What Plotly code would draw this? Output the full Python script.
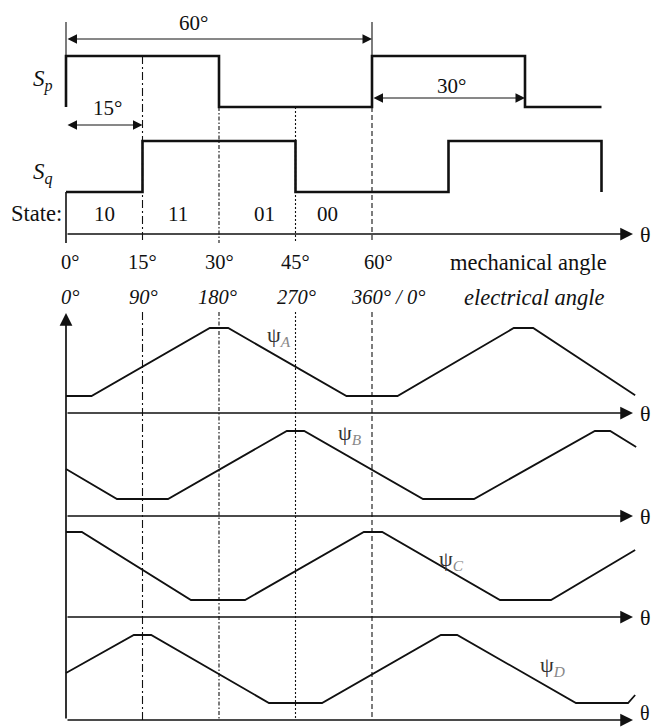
import plotly.graph_objects as go

# ---------------- data (mechanical angle in degrees) ----------------
sp_x = [0, 0, 30, 30, 60, 60, 90, 90, 105]
sp_y = [0, 1, 1, 0, 0, 1, 1, 0, 0]
sq_x = [0, 15, 15, 45, 45, 75, 75, 105, 105]
sq_y = [0, 0, 1, 1, 0, 0, 1, 1, 0]

# flux linkage waveforms: level 0 = axis, 1 = bottom flat, 5 = top flat
psiA_x = [0, 5, 28.2, 31.8, 55, 65, 87.8, 91.6, 111.6]
psiA_y = [1, 1, 5, 5, 1, 1, 5, 5, 1.05]
psiB_x = [0, 10, 20, 43.3, 46.7, 70, 80, 103.7, 106.7, 111.8]
psiB_y = [2.76, 1, 1, 5, 5, 1, 1, 5, 5, 4.06]
psiC_x = [0, 3.1, 24.5, 35.1, 58.4, 62, 85.1, 95.1, 111.6]
psiC_y = [5, 5, 1, 1, 5, 5, 1, 1, 3.94]
psiD_x = [0, 13.3, 16.7, 39.8, 50.2, 73.5, 76.7, 100, 110.2, 111.6]
psiD_y = [2.76, 5, 5, 1, 1, 5, 5, 1, 1, 1.47]

mech_ticks = [0, 15, 30, 45, 60]
mech_labels = ["0°", "15°", "30°", "45°", "60°"]
elec_labels = ["0°", "90°", "180°", "270°", "360° / 0°"]
states = ["10", "11", "01", "00"]

# ---------------- layout geometry ----------------
W, H = 652, 727
X0PX, PXDEG = 66.0, 5.1
xr = [-X0PX / PXDEG, (W - X0PX) / PXDEG]


def deg(px):
    return (px - X0PX) / PXDEG


def dom(zero_px, unit_px, lo, hi):
    b = 1 - (zero_px - unit_px * lo) / H
    t = 1 - (zero_px - unit_px * hi) / H
    return [max(0.0, b), min(1.0, t)]


FONT = "'Liberation Serif', 'Times New Roman', Times, serif"
BLK = "#111"

fig = go.Figure()

# switching signals
fig.add_trace(go.Scatter(x=sp_x, y=sp_y, mode="lines", yaxis="y2",
                         line=dict(color=BLK, width=2.6), hoverinfo="skip"))
fig.add_trace(go.Scatter(x=sq_x, y=sq_y, mode="lines", yaxis="y3",
                         line=dict(color=BLK, width=2.6), hoverinfo="skip"))

# flux linkages
for xs, ys, ax in [(psiA_x, psiA_y, "y4"), (psiB_x, psiB_y, "y5"),
                   (psiC_x, psiC_y, "y6"), (psiD_x, psiD_y, "y7")]:
    fig.add_trace(go.Scatter(x=xs, y=ys, mode="lines", yaxis=ax,
                             line=dict(color=BLK, width=1.8), hoverinfo="skip"))

hid = dict(visible=False, fixedrange=True)
psi_axes_px = [413, 516, 617, 720]

layout = dict(
    width=W, height=H, margin=dict(l=0, r=0, t=0, b=0),
    paper_bgcolor="white", plot_bgcolor="white", showlegend=False,
    font=dict(family=FONT),
    xaxis=dict(range=xr, domain=[0, 1], anchor="y", **hid),
    yaxis=dict(range=[H, 0], domain=[0, 1], anchor="x", **hid),
    yaxis2=dict(range=[-0.2, 1.2], domain=dom(107, 51, -0.2, 1.2), anchor="x", **hid),
    yaxis3=dict(range=[-0.2, 1.2], domain=dom(192, 51, -0.2, 1.2), anchor="x", **hid),
)
for i, a in enumerate(psi_axes_px):
    layout[f"yaxis{4 + i}"] = dict(range=[-0.4, 5.6], domain=dom(a, 17, -0.4, 5.6),
                                  anchor="x", **hid)
fig.update_layout(**layout)

shapes = []


def vline(xd, y0, y1, dash="solid", w=1.1):
    shapes.append(dict(type="line", xref="x", yref="y", x0=xd, x1=xd, y0=y0, y1=y1,
                       line=dict(color=BLK, width=w, dash=dash)))


# extension lines for 60° dimension
vline(0, 22, 56)
vline(60, 22, 56)
# left frame of state row
vline(0, 192, 243, w=1.6)
# reference lines
styles = {15: "8px,3px,2px,3px", 30: "4px,2px,1.5px,2px", 45: "2px,2px", 60: "5px,3px"}
starts = {15: 56, 30: 107, 45: 107, 60: 107}
for d in [15, 30, 45, 60]:
    vline(d, starts[d], 243, styles[d])
    vline(d, 312, 720, styles[d])

annotations = []


def arrow(x, y, ax, ay, w=1.6, size=1.6, both=False):
    annotations.append(dict(x=x, y=y, ax=ax, ay=ay, xref="x", yref="y", axref="x", ayref="y",
                            text="", showarrow=True, arrowhead=2, arrowsize=size,
                            arrowwidth=w, arrowcolor=BLK, standoff=0, startstandoff=0,
                            arrowside="end+start" if both else "end",
                            startarrowhead=2, startarrowsize=size))


def txt(s, xpx, ypx, size=20, italic=False, color=BLK):
    if italic:
        s = f"<i>{s}</i>"
    annotations.append(dict(x=xpx / W, y=1 - ypx / H, xref="paper", yref="paper",
                            text=s, showarrow=False, xanchor="center", yanchor="middle",
                            font=dict(family=FONT, size=size, color=color)))


# horizontal axes with arrow heads
tip = deg(633)
for a in [234] + psi_axes_px:
    arrow(tip, a, 0, a, w=1.7, size=1.5)
    if a > 700:
        txt("θ", 645, 713, size=20)
    else:
        txt("θ", 645, a, size=22)
# vertical axis
arrow(0, 313, 0, 720, w=1.7, size=1.5)

# dimension arrows
arrow(60, 39, 0, 39, w=1, size=1.9, both=True)
arrow(15, 125, 0, 125, w=1, size=1.9, both=True)
arrow(90, 98, 60, 98, w=1, size=1.9, both=True)
txt("60°", 193, 23, size=21)
txt("15°", 107, 108, size=21)
txt("30°", 451, 86, size=21)

# signal names
txt("<i>S</i><sub><i>p</i></sub>", 43, 80, size=23)
txt("<i>S</i><sub><i>q</i></sub>", 43, 174, size=23)
txt("State:", 36, 213, size=22.5)
for s, cx in zip(states, [104, 178, 264, 327]):
    txt(s, cx, 214, size=21)

# angle labels
for lab, cx in zip(mech_labels, [70, 142, 219, 295, 378]):
    txt(lab, cx, 262, size=20.5)
txt("mechanical angle", 528, 262, size=22.5)
for lab, cx in zip(elec_labels, [70, 143, 217, 296, 388]):
    txt(lab, cx, 297, size=20.5, italic=True)
txt("electrical angle", 534, 297, size=22.5, italic=True)

# flux labels
for name, cx, cy in [("A", 279, 336), ("B", 350, 434), ("C", 451, 560), ("D", 552, 666)]:
    txt(f"ψ<sub><span style='color:#888'><i>{name}</i></span></sub>", cx, cy,
        size=22, color="#333")

fig.update_layout(shapes=shapes, annotations=annotations)
fig.write_html("out.html")
